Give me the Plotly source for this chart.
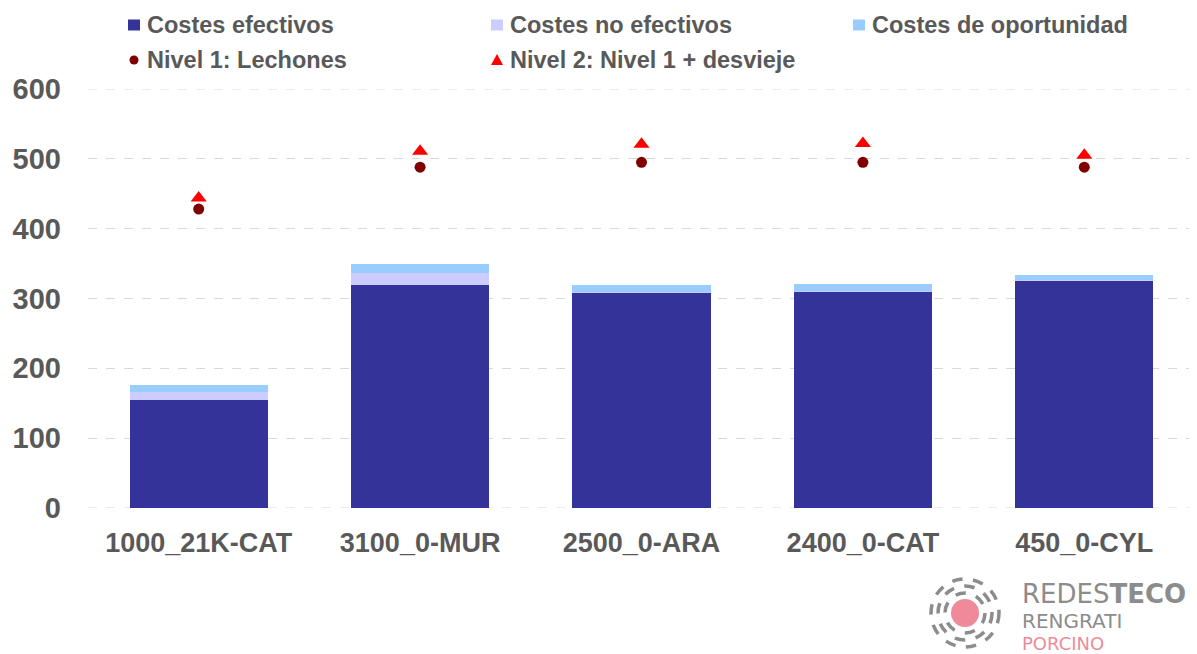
import plotly.graph_objects as go

categories = ["1000_21K-CAT", "3100_0-MUR", "2500_0-ARA", "2400_0-CAT", "450_0-CYL"]
costes_efectivos = [155, 319, 308, 310, 326]
costes_no_efectivos = [11, 18, 1, 1, 1]
costes_oportunidad = [10, 13, 10, 10, 7]
nivel1 = [428, 488, 495, 495, 488]
nivel2 = [444, 511, 521, 522, 505]
y_ticks = [0, 100, 200, 300, 400, 500, 600]

OFF = 8  # page body margin
W, H = 1197 - OFF, 654 - OFF
L, R, T, B = 88 - OFF, 2, 89 - OFF, 146
PW, PH = W - L - R, H - T - B

def px(x):
    # x given in page pixels
    return (x - OFF - L) / PW

def py(y):
    return (H - B - (y - OFF)) / PH

TXT = "#595959"
FONT = "Arial, Liberation Sans, sans-serif"
C_EF, C_NO, C_OP = "#333399", "#CCCCFF", "#99CCFF"
C_N1, C_N2 = "#800000", "#FF0000"
GRID = "#D9D9D9"

fig = go.Figure()
fig.add_bar(x=categories, y=costes_efectivos, name="Costes efectivos",
            marker=dict(color=C_EF, line=dict(width=0)), width=0.625, showlegend=False)
fig.add_bar(x=categories, y=costes_no_efectivos, name="Costes no efectivos",
            marker=dict(color=C_NO, line=dict(width=0)), width=0.625, showlegend=False)
fig.add_bar(x=categories, y=costes_oportunidad, name="Costes de oportunidad",
            marker=dict(color=C_OP, line=dict(width=0)), width=0.625, showlegend=False)
fig.add_scatter(x=categories, y=nivel1, mode="markers", name="Nivel 1: Lechones",
                marker=dict(symbol="circle", size=11, color=C_N1), showlegend=False)
fig.add_scatter(x=categories, y=nivel2, mode="markers", name="Nivel 2: Nivel 1 + desvieje",
                marker=dict(symbol="triangle-up", size=14, color=C_N2), showlegend=False)

shapes = []
annotations = []

# gridlines at the range edges (0 and 600)
for yv in (y_ticks[0], y_ticks[-1]):
    shapes.append(dict(type="line", xref="paper", yref="y", x0=0, x1=1, y0=yv, y1=yv,
                       line=dict(color=GRID, width=1, dash="dash"), layer="below"))

# manual legend
legend_items = [
    ("square", C_EF, "Costes efectivos", 134, 25),
    ("square", C_NO, "Costes no efectivos", 497, 25),
    ("square", C_OP, "Costes de oportunidad", 859, 25),
    ("circle", C_N1, "Nivel 1: Lechones", 134, 60),
    ("triangle", C_N2, "Nivel 2: Nivel 1 + desvieje", 497, 60),
]
for kind, col, label, cx, cy in legend_items:
    if kind == "square":
        shapes.append(dict(type="rect", xref="paper", yref="paper",
                           x0=px(cx - 6), x1=px(cx + 6), y0=py(cy + 5.5), y1=py(cy - 5.5),
                           fillcolor=col, line=dict(width=0)))
    elif kind == "circle":
        shapes.append(dict(type="circle", xref="paper", yref="paper",
                           x0=px(cx - 4.5), x1=px(cx + 4.5), y0=py(cy + 4.5), y1=py(cy - 4.5),
                           fillcolor=col, line=dict(width=0)))
    else:
        path = "M {} {} L {} {} L {} {} Z".format(px(cx - 6), py(cy + 5), px(cx + 6), py(cy + 5),
                                                px(cx), py(cy - 6))
        shapes.append(dict(type="path", xref="paper", yref="paper", path=path,
                           fillcolor=col, line=dict(width=0)))
    annotations.append(dict(text=label, xref="paper", yref="paper", x=px(cx + 11), y=py(cy),
                            xanchor="left", yanchor="middle", showarrow=False,
                            font=dict(family=FONT, size=23.5, color=TXT, weight="bold")))

# logo
lcx, lcy = 965, 613
for r, w in [(20, 3.5), (27, 3.5), (34, 3.5)]:
    shapes.append(dict(type="circle", xref="paper", yref="paper",
                       x0=px(lcx - r), x1=px(lcx + r), y0=py(lcy + r), y1=py(lcy - r),
                       line=dict(color="#8C8C8C", width=w, dash="dash")))
shapes.append(dict(type="circle", xref="paper", yref="paper",
                   x0=px(lcx - 14), x1=px(lcx + 14), y0=py(lcy + 14), y1=py(lcy - 14),
                   fillcolor="#EF8A9B", line=dict(width=0)))
LOGO_FONT = "DejaVu Sans, Open Sans, sans-serif"
annotations.append(dict(text="REDES<b>TECO</b>", xref="paper", yref="paper",
                        x=px(1020), y=py(594), xanchor="left", yanchor="middle", showarrow=False,
                        font=dict(family=LOGO_FONT, size=26, color="#8C8C8C")))
annotations.append(dict(text="RENGRATI", xref="paper", yref="paper",
                        x=px(1020), y=py(621), xanchor="left", yanchor="middle", showarrow=False,
                        font=dict(family=LOGO_FONT, size=20, color="#8C8C8C")))
annotations.append(dict(text="PORCINO", xref="paper", yref="paper",
                        x=px(1020), y=py(643), xanchor="left", yanchor="middle", showarrow=False,
                        font=dict(family=LOGO_FONT, size=18, color="#EF8A9B")))

fig.update_layout(
    width=W, height=H,
    margin=dict(l=L, r=R, t=T, b=B, autoexpand=False),
    barmode="stack",
    bargap=0.375,
    paper_bgcolor="white", plot_bgcolor="white",
    showlegend=False,
    shapes=shapes, annotations=annotations,
    font=dict(family=FONT, color=TXT),
)
fig.update_yaxes(range=[0, 600], tickvals=y_ticks, showgrid=True, gridcolor=GRID,
                 griddash="dash", gridwidth=1, zeroline=False, showline=False, ticks="",
                 ticklabelstandoff=26,
                 tickfont=dict(family=FONT, size=29, color=TXT, weight="bold"))
fig.update_xaxes(showgrid=False, showline=False, zeroline=False, ticks="",
                 ticklabelstandoff=16,
                 tickfont=dict(family=FONT, size=27, color=TXT, weight="bold"))

fig.write_html("out.html")
